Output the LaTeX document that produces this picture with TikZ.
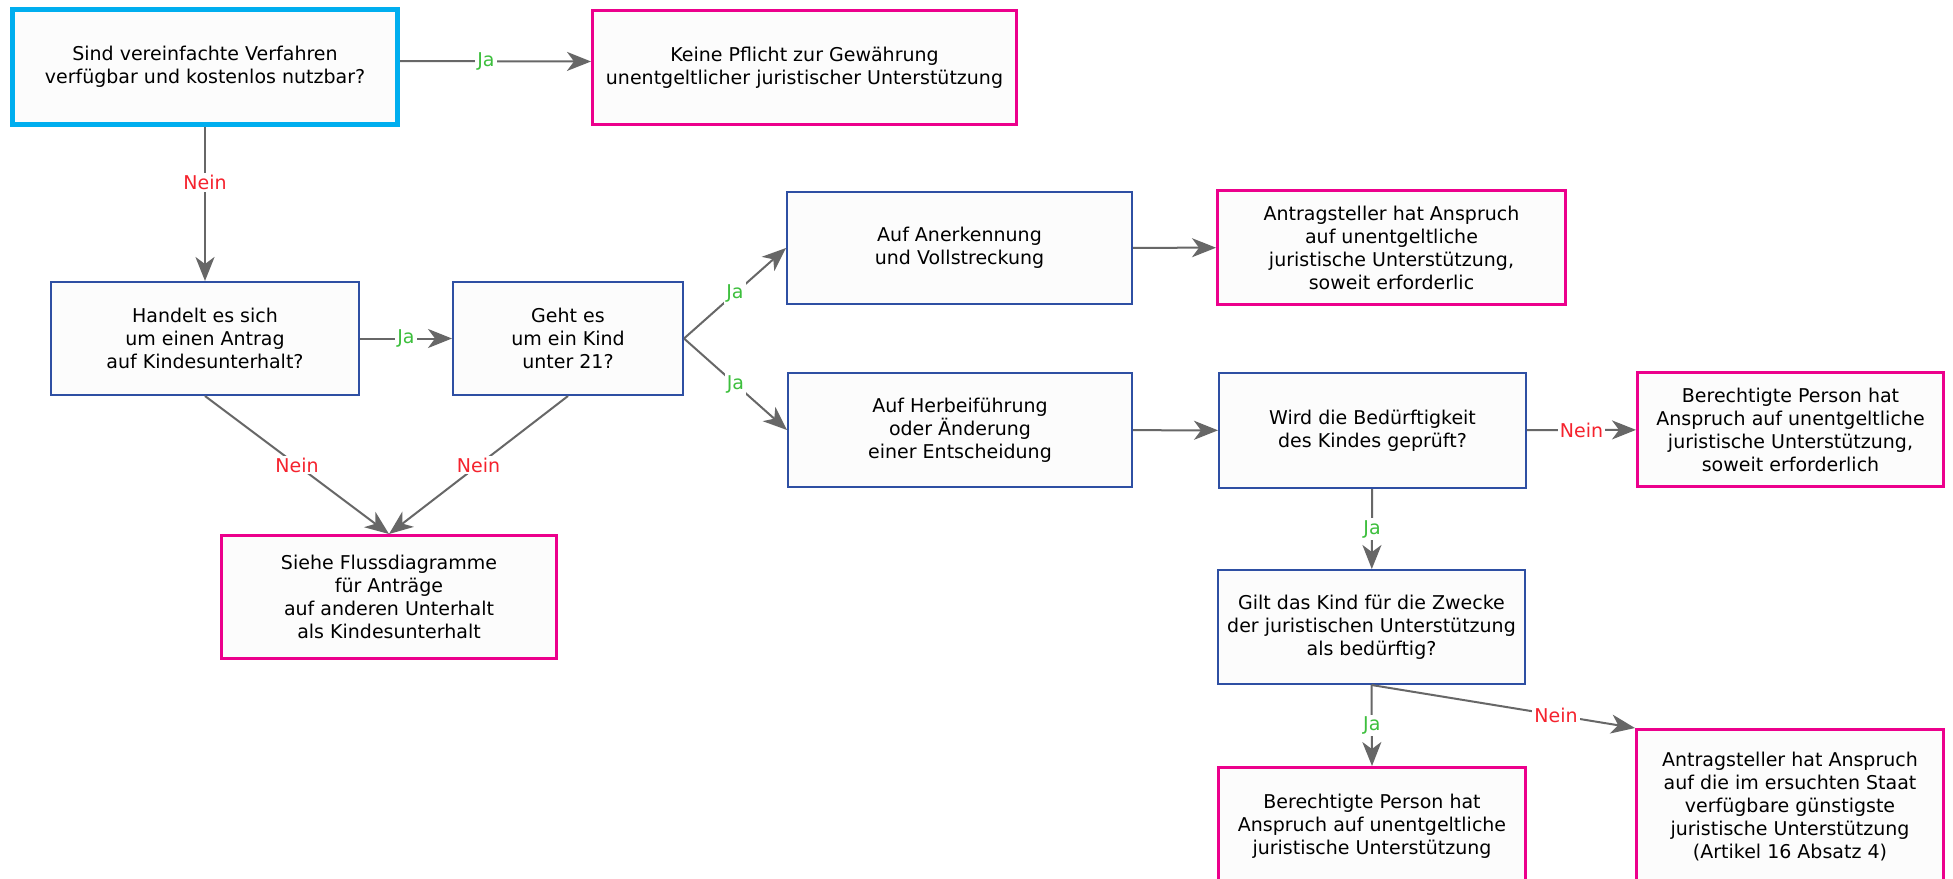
\documentclass[tikz,border=0pt]{standalone}
\usepackage{fontspec}
\setmainfont{DejaVu Sans}
\usetikzlibrary{arrows.meta}
\definecolor{startblue}{HTML}{00AEEF}
\definecolor{endpink}{HTML}{EC008C}
\definecolor{askblue}{HTML}{2E4FA3}
\definecolor{arrgray}{HTML}{676767}
\definecolor{jagreen}{HTML}{3DBF3D}
\definecolor{neinred}{HTML}{F5222D}
\tikzset{
  box/.style={draw, fill=white!99!black, align=center, inner sep=0pt, font=\fontsize{19}{23}\selectfont},
  ask/.style={box, draw=askblue, line width=2pt},
  res/.style={box, draw=endpink, line width=3pt},
  go/.style={box, draw=startblue, line width=5pt},
  arr/.style={color=arrgray, line width=2pt, -{Stealth[length=24pt,width=19pt,inset=7pt]}},
  ja/.style={fill=white, text=jagreen, font=\fontsize{19}{21}\selectfont, inner sep=2pt},
  nein/.style={ja, text=neinred},
}
\begin{document}
\begin{tikzpicture}[x=1pt, y=-1pt]
\fill[white] (0,0) rectangle (1953,878);
\useasboundingbox (0,0) rectangle (1953,878);
\clip (0,0) rectangle (1953,878);
\node[go, minimum width=385pt, minimum height=115pt](q0) at (205, 67) {Sind vereinfachte Verfahren\\verfügbar und kostenlos nutzbar?};
\node[res, minimum width=424pt, minimum height=114pt](r0) at (804.5, 67.5) {Keine Pflicht zur Gewährung\\unentgeltlicher juristischer Unterstützung};
\node[ask, minimum width=308pt, minimum height=113pt](q1) at (205, 338.5) {Handelt es sich\\um einen Antrag\\auf Kindesunterhalt?};
\node[ask, minimum width=230pt, minimum height=113pt](q2) at (568, 338.5) {Geht es\\um ein Kind\\unter 21?};
\node[res, minimum width=335pt, minimum height=123pt](r1) at (389, 597) {Siehe Flussdiagramme\\für Anträge\\auf anderen Unterhalt\\als Kindesunterhalt};
\node[ask, minimum width=345pt, minimum height=112pt](a1) at (959.5, 248) {Auf Anerkennung\\und Vollstreckung};
\node[ask, minimum width=344pt, minimum height=114pt](a2) at (960, 430) {Auf Herbeiführung\\oder Änderung\\einer Entscheidung};
\node[res, minimum width=348pt, minimum height=114pt](r2) at (1391.5, 247.5) {Antragsteller hat Anspruch\\auf unentgeltliche\\juristische Unterstützung,\\soweit erforderlic};
\node[ask, minimum width=307pt, minimum height=115pt](q3) at (1372.5, 430.5) {Wird die Bedürftigkeit\\des Kindes geprüft?};
\node[res, minimum width=306pt, minimum height=114pt](r3) at (1790.5, 429.5) {Berechtigte Person hat\\Anspruch auf unentgeltliche\\juristische Unterstützung,\\soweit erforderlich};
\node[ask, minimum width=307pt, minimum height=114pt](q4) at (1371.5, 627) {Gilt das Kind für die Zwecke\\der juristischen Unterstützung\\als bedürftig?};
\node[res, minimum width=307pt, minimum height=117pt](r4) at (1372, 826) {Berechtigte Person hat\\Anspruch auf unentgeltliche\\juristische Unterstützung};
\node[res, minimum width=307pt, minimum height=155pt](r5) at (1790, 807) {Antragsteller hat Anspruch\\auf die im ersuchten Staat\\verfügbare günstigste\\juristische Unterstützung\\(Artikel 16 Absatz 4)};
\path[arr]
([yshift=6pt]q0.east) edge node[ja, pos=.45]{Ja} ([yshift=6pt]r0.west)
(q0) edge node[nein, pos=.36]{Nein} (q1)
(q1) edge node[ja]{Ja} (q2)
(q1.south) edge node[nein]{Nein} (r1.north)
(q2.south) edge node[nein]{Nein} (r1.north)
(q2.east) edge node[ja]{Ja} (a1.west)
(q2.east) edge node[ja]{Ja} (a2.west)
(a1) edge (r2)
(a2) edge (q3)
(q3) edge node[nein]{Nein} (r3)
(q3) edge node[ja]{Ja} (q4)
(q4.south) edge node[ja]{Ja} (r4.north)
(q4.south) edge node[nein, pos=.7]{Nein} (r5.north west);
\end{tikzpicture}
\end{document}
